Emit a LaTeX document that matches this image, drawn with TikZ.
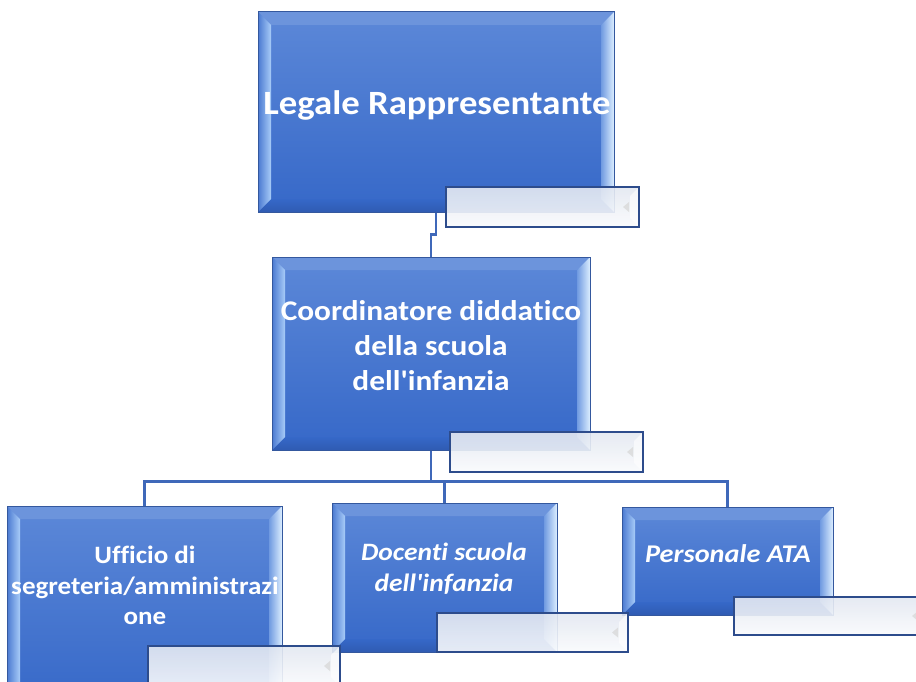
\documentclass[tikz,border=0pt]{standalone}
\usepackage{fontspec}
\setmainfont{Carlito}
\newfontfamily\calfont{Carlito}[Ligatures=NoCommon]
\usetikzlibrary{calc}
\definecolor{edge}{HTML}{34589E}
\definecolor{bodytop}{HTML}{5C88D8}
\definecolor{bodybot}{HTML}{3668C8}
\definecolor{bodymid}{HTML}{4A79D1}
\definecolor{bevlight}{HTML}{A8CCF8}
\definecolor{bevwhite}{HTML}{DCEEFF}
\definecolor{bevdark}{HTML}{2F5BB2}
\definecolor{wedge}{HTML}{2D4C8C}
\definecolor{wtop}{HTML}{E3E8F1}
\definecolor{wbot}{HTML}{FAFBFD}
\definecolor{connc}{HTML}{3F68B9}
\tikzset{
  bluebox/.style={draw=edge, line width=1pt, inner sep=0pt, top color=bodytop, bottom color=bodybot,
    path picture={
      \coordinate (NW) at (path picture bounding box.north west);
      \coordinate (NE) at (path picture bounding box.north east);
      \coordinate (SW) at (path picture bounding box.south west);
      \coordinate (SE) at (path picture bounding box.south east);
      \fill[bodytop!90!white] (NW) -- (NE) -- ($(NE)+(-13,13)$) -- ($(NW)+(13,13)$) -- cycle;
      \shade[top color=bodybot, bottom color=bevdark] (SW) -- (SE) -- ($(SE)+(-13,-13)$) -- ($(SW)+(13,-13)$) -- cycle;
      \shade[left color=bodymid, right color=bevlight] (NW) -- ($(NW)+(13,13)$) -- ($(SW)+(13,-13)$) -- (SW) -- cycle;
      \shade[left color=bodymid!60!bevlight, right color=bevwhite] (NE) -- ($(NE)+(-13,13)$) -- ($(SE)+(-13,-13)$) -- (SE) -- cycle;
    }},
  whitebox/.style={draw=wedge, line width=2pt, inner sep=0pt, top color=wtop, bottom color=wbot, fill opacity=0.9,
    path picture={
      \coordinate (NE) at (path picture bounding box.north east);
      \coordinate (SE) at (path picture bounding box.south east);
      \fill[white, opacity=0.6] (NE) -- ($(NE)+(-9,9)$) -- ($(SE)+(-9,-9)$) -- (SE) -- cycle;
      \fill[black!15, opacity=0.8] ($(NE)!0.5!(SE)+(-10,-5)$) -- ++(0,10) -- ++(-6,-5) -- cycle;
    }},
  lbl/.style={text=white, align=center, inner sep=0pt},
  conn/.style={draw=connc, line width=2.6pt},
}
\begin{document}
\begin{tikzpicture}[x=1pt, y=-1pt]
\clip (0,0) rectangle (916,682);
\fill[white] (0,0) rectangle (916,682);
% boxes
\node[bluebox, minimum width=356pt, minimum height=200pt] (leg) at (436,112) {};
\node[bluebox, minimum width=318pt, minimum height=193pt] (coo) at (431,353.5) {};
\node[bluebox, minimum width=275pt, minimum height=200pt] (uff) at (144.5,606) {};
\node[bluebox, minimum width=225pt, minimum height=149pt] (doc) at (444.5,577.5) {};
\node[bluebox, minimum width=211pt, minimum height=108pt] (per) at (727.5,561) {};
% connectors
\draw[conn] (leg.south) -- ++(0,22) -| (coo.north);
\draw[conn] (coo.south) -- ++(0,31) -| (uff.north);
\draw[conn] (coo.south) -- ++(0,31) -| (doc.north);
\draw[conn] (coo.south) -- ++(0,31) -| (per.north);
% redraw boxes above connectors
\node[bluebox, minimum width=356pt, minimum height=200pt] at (436,112) {};
\node[bluebox, minimum width=318pt, minimum height=193pt] at (431,353.5) {};
\node[bluebox, minimum width=275pt, minimum height=200pt] at (144.5,606) {};
\node[bluebox, minimum width=225pt, minimum height=149pt] at (444.5,577.5) {};
\node[bluebox, minimum width=211pt, minimum height=108pt] at (727.5,561) {};
% white boxes
\node[whitebox, minimum width=193pt, minimum height=40pt] (legw) at (542.5,207) {};
\node[whitebox, minimum width=193pt, minimum height=40pt] (coow) at (546.5,452) {};
\node[whitebox, minimum width=192pt, minimum height=40pt] (uffw) at (244,666) {};
\node[whitebox, minimum width=191pt, minimum height=39pt] (docw) at (532.5,632.5) {};
\node[whitebox, minimum width=194pt, minimum height=38pt] (perw) at (831,616) {};
% labels
\node[lbl, font=\calfont\fontsize{34}{40}\selectfont\bfseries] (legt) at (437,105) {\scalebox{1.08}[1]{Legale Rappresentante}};
\node[lbl, font=\calfont\fontsize{28.5}{35}\selectfont\bfseries] (coot) at (431,348) {\scalebox{1.1}[1]{\begin{tabular}{@{}c@{}}Coordinatore diddatico\\ della scuola\\ dell'infanzia\end{tabular}}};
\node[lbl, font=\calfont\fontsize{25}{30.5}\selectfont\bfseries] (ufft) at (145,588) {\scalebox{1.08}[1]{\begin{tabular}{@{}c@{}}Ufficio di\\ segreteria/amministrazi\\ one\end{tabular}}};
\node[lbl, font=\calfont\fontsize{25}{31}\selectfont\bfseries\itshape] (doct) at (444,570) {\scalebox{1.1}[1]{\begin{tabular}{@{}c@{}}Docenti scuola\\ dell'infanzia\end{tabular}}};
\node[lbl, font=\calfont\fontsize{25.5}{31}\selectfont\bfseries\itshape] (pert) at (728,554) {\scalebox{1.11}[1]{Personale ATA}};
\end{tikzpicture}
\end{document}
